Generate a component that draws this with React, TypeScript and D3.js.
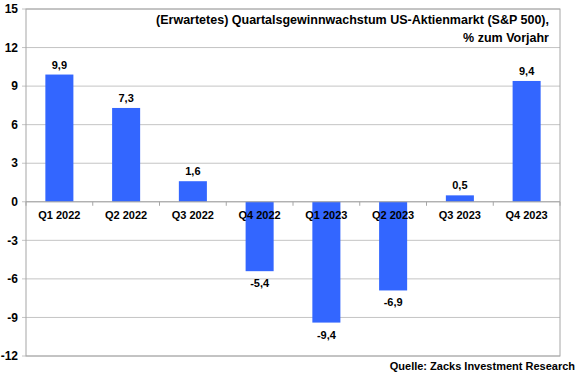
import React from "react";
import * as d3 from "d3";

const categories = ["Q1 2022", "Q2 2022", "Q3 2022", "Q4 2022", "Q1 2023", "Q2 2023", "Q3 2023", "Q4 2023"];
const values = [9.9, 7.3, 1.6, -5.4, -9.4, -6.9, 0.5, 9.4];
const yTicks = [15, 12, 9, 6, 3, 0, -3, -6, -9, -12];
const titleLines = ["(Erwartetes) Quartalsgewinnwachstum US-Aktienmarkt (S&P 500),", "% zum Vorjahr"];
const sourceText = "Quelle: Zacks Investment Research";

const W = 580, H = 375;
const L = 26, R = 560, T = 9, B = 356;
const font = "'Liberation Sans', Arial, sans-serif";

export default function App() {
  const x = d3.scaleBand<string>().domain(categories).range([L, R]).paddingInner(0.58).paddingOuter(0.29);
  const y = d3.scaleLinear().domain([-12, 15]).range([B, T]);
  const step = (R - L) / categories.length;
  const fmt = (v: number) => v.toFixed(1).replace(".", ",");
  return (
    <svg width={W} height={H} style={{ position: "absolute", left: 0, top: 0, background: "#fff" }} fontFamily={font}>
      {yTicks.map((t) => (
        <g key={t}>
          <line x1={L - 4} x2={R} y1={y(t)} y2={y(t)} stroke="#c4c4c4" strokeWidth={1} />
          <text x={18} y={y(t)} dy="0.35em" textAnchor="end" fontSize={12} fontWeight="bold" fill="#000">{t}</text>
        </g>
      ))}
      <rect x={L} y={T} width={R - L} height={B - T} fill="none" stroke="#a6a6a6" strokeWidth={1} />
      {values.map((v, i) => (
        <rect key={i} x={x(categories[i])} width={x.bandwidth()} y={y(Math.max(0, v))} height={Math.abs(y(v) - y(0))} fill="#3366FF" />
      ))}
      <line x1={L} x2={R} y1={y(0)} y2={y(0)} stroke="#a6a6a6" strokeWidth={1} />
      {d3.range(categories.length + 1).map((i) => (
        <line key={i} x1={L + i * step} x2={L + i * step} y1={y(0)} y2={y(0) + 4} stroke="#a6a6a6" strokeWidth={1} />
      ))}
      {categories.map((c) => (
        <text key={c} x={(x(c) as number) + x.bandwidth() / 2} y={y(0) + 17} textAnchor="middle" fontSize={11} fontWeight="bold" fill="#000">{c}</text>
      ))}
      {values.map((v, i) => (
        <text key={i} x={(x(categories[i]) as number) + x.bandwidth() / 2} y={v >= 0 ? y(v) - 6 : y(v) + 16} textAnchor="middle" fontSize={11} fontWeight="bold" fill="#000">{fmt(v)}</text>
      ))}
      {titleLines.map((t, i) => (
        <text key={i} x={549} y={24 + i * 18} textAnchor="end" fontSize={12.5} fontWeight="bold" fill="#000">{t}</text>
      ))}
      <text x={575} y={370} textAnchor="end" fontSize={11} fontWeight="bold" fill="#000">{sourceText}</text>
    </svg>
  );
}
